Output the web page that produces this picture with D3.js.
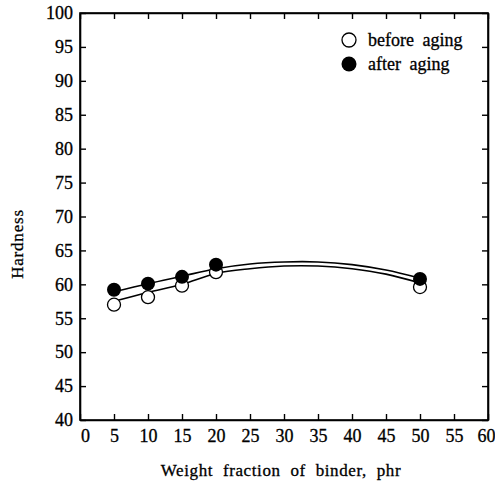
<!DOCTYPE html>
<html>
<head>
<meta charset="utf-8">
<script src="https://cdn.jsdelivr.net/npm/d3@7"></script>
<style>
body{margin:0;background:#fff;}
</style>
</head>
<body>
<div id="chart"></div>
<script>
// values
var binder=[5,10,15,20,50];
var before=[57.0,58.1,59.8,61.8,59.6];
var after=[59.2,60.1,61.1,62.9,60.8];

// the two drawn trend curves, read point by point
var curveX=[5,10,15,20,25,30,35,40,45,50];
var curveBefore=[57.5,58.8,60.0,61.6,62.3,62.7,62.7,62.3,61.5,60.2];
var curveAfter=[58.9,60.1,61.2,62.3,63.0,63.3,63.3,62.9,62.1,60.9];

var xTicks=[0,5,10,15,20,25,30,35,40,45,50,55,60];
var yTicks=[40,45,50,55,60,65,70,75,80,85,90,95,100];

var W=495,H=485;
var m={left:80,top:13,right:7,bottom:65};
var FONT="'Liberation Serif','Times New Roman',serif";

var svg=d3.select("#chart").append("svg").attr("width",W).attr("height",H);

var x=d3.scaleLinear().domain([0,60]).range([m.left,W-m.right]);
var y=d3.scaleLinear().domain([40,100]).range([H-m.bottom,m.top]);

// frame
svg.append("rect")
  .attr("x",x(0)).attr("y",y(100))
  .attr("width",x(60)-x(0)).attr("height",y(40)-y(100))
  .attr("fill","none").attr("stroke","#000").attr("stroke-width",1.6);

var tk=6;
// bottom axis, ticks inward
var gx=svg.append("g").attr("transform","translate(0,"+y(40)+")")
  .call(d3.axisBottom(x).tickValues(xTicks).tickSizeInner(-tk).tickSizeOuter(0).tickPadding(9));
// top axis ticks
svg.append("g").attr("transform","translate(0,"+y(100)+")")
  .call(d3.axisTop(x).tickValues(xTicks).tickSizeInner(-tk).tickSizeOuter(0).tickFormat(""));
// left axis
var gy=svg.append("g").attr("transform","translate("+x(0)+",0)")
  .call(d3.axisLeft(y).tickValues(yTicks).tickSizeInner(-tk).tickSizeOuter(0).tickPadding(7));
// right axis ticks
svg.append("g").attr("transform","translate("+x(60)+",0)")
  .call(d3.axisRight(y).tickValues(yTicks).tickSizeInner(-tk).tickSizeOuter(0).tickFormat(""));

svg.selectAll(".domain").attr("stroke","#000").attr("stroke-width",1.6);
svg.selectAll(".tick line").attr("stroke","#000").attr("stroke-width",1.4);
gx.selectAll(".tick text").filter(function(d){return d==0;}).attr("dx",5);
gx.selectAll(".tick text").filter(function(d){return d==60;}).attr("dx",-2);

// trend curves
var line=d3.line().curve(d3.curveCatmullRom)
  .x(function(d,i){return x(curveX[i]);})
  .y(function(d){return y(d);});
[curveBefore,curveAfter].forEach(function(c){
  svg.append("path").datum(c).attr("d",line)
    .attr("fill","none").attr("stroke","#000").attr("stroke-width",1.6);
});

// points
svg.selectAll(".before").data(binder).enter().append("circle")
  .attr("cx",function(d){return x(d);})
  .attr("cy",function(d,i){return y(before[i]);})
  .attr("r",6.5).attr("fill","#fff").attr("stroke","#000").attr("stroke-width",1.3);
svg.selectAll(".after").data(binder).enter().append("circle")
  .attr("cx",function(d){return x(d);})
  .attr("cy",function(d,i){return y(after[i]);})
  .attr("r",7).attr("fill","#000");

// legend
svg.append("circle").attr("cx",349).attr("cy",40).attr("r",7)
  .attr("fill","#fff").attr("stroke","#000").attr("stroke-width",1.3);
svg.append("text").attr("x",368).attr("y",46).style("font-size","18px").style("word-spacing","4px").text("before aging");
svg.append("circle").attr("cx",349).attr("cy",64).attr("r",7.5).attr("fill","#000");
svg.append("text").attr("x",368).attr("y",70).style("font-size","18px").style("word-spacing","4px").text("after aging");

// axis titles
svg.append("text").attr("x",(x(0)+x(60))/2-3).attr("y",476)
  .attr("text-anchor","middle").style("font-size","17px")
  .style("letter-spacing","0.6px").style("word-spacing","5px")
  .text("Weight fraction of binder, phr");
svg.append("text").attr("transform","translate(23,"+244+") rotate(-90)")
  .attr("text-anchor","middle").style("font-size","17px").style("letter-spacing","0.8px")
  .text("Hardness");

// every label in the serif face, slightly heavy like the print
svg.selectAll("text")
  .style("font-family",FONT)
  .attr("fill","#000")
  .attr("stroke","#000").attr("stroke-width",0.3);
svg.selectAll(".tick text").style("font-size","18px");
</script>
</body>
</html>
